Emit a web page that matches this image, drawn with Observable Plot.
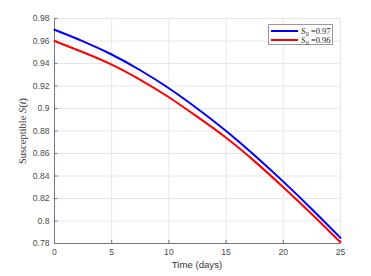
<!DOCTYPE html>
<html>
<head>
<meta charset="utf-8">
<script src="https://cdn.jsdelivr.net/npm/d3@7"></script>
<script src="https://cdn.jsdelivr.net/npm/@observablehq/plot@0.6"></script>
<style>
  html, body { margin: 0; padding: 0; background: #fff; }
  #wrap { position: relative; width: 371px; height: 276px; }
  #legend {
    position: absolute; left: 268px; top: 24px; width: 65px; height: 21px;
    border: 1px solid #9a9a9a; background: #fff; box-sizing: border-box;
    font-family: "Liberation Serif", "DejaVu Serif", serif; font-size: 8.5px; color: #222;
  }
  .row { position: absolute; left: 2px; height: 10px; display: flex; align-items: center; }
  .sw { width: 27px; height: 0; border-top: 2px solid; margin-right: 3px; }
  .lab { white-space: nowrap; line-height: 10px; }
  .lab sub { font-size: 6px; line-height: 0; vertical-align: baseline; position: relative; top: 2px; margin-left: 0.5px; }
</style>
</head>
<body>
<div id="wrap"></div>
<script>
const times = [0, 2.5, 5, 7.5, 10, 12.5, 15, 17.5, 20, 22.5, 25];
const s097 = [0.970, 0.9597, 0.948, 0.934, 0.918, 0.8998, 0.880, 0.8582, 0.835, 0.8105, 0.785];
const s096 = [0.960, 0.950, 0.939, 0.9255, 0.910, 0.8925, 0.874, 0.853, 0.830, 0.806, 0.781];
const seriesNames = ["S0 = 0.97", "S0 = 0.96"];
const seriesColors = ["#0000ff", "#ff0000"];
const seriesLabels = ["0.97", "0.96"];
const xTicks = [0, 5, 10, 15, 20, 25];
const yTicks = [0.78, 0.80, 0.82, 0.84, 0.86, 0.88, 0.90, 0.92, 0.94, 0.96, 0.98];

const data = [
  ...times.map((t, i) => ({t, s: s097[i], k: seriesNames[0]})),
  ...times.map((t, i) => ({t, s: s096[i], k: seriesNames[1]}))
];

const chart = Plot.plot({
  width: 371,
  height: 276,
  marginLeft: 54,
  marginRight: 31,
  marginTop: 18,
  marginBottom: 33,
  style: {fontFamily: "'Liberation Sans', Arial, sans-serif", fontSize: "8.6px", color: "#4a4a4a", background: "#fff"},
  x: {domain: [0, 25]},
  y: {domain: [0.78, 0.98]},
  color: {domain: seriesNames, range: seriesColors},
  marks: [
    Plot.ruleX(xTicks, {x: d => d, stroke: "#e6e6e6", strokeWidth: 1}),
    Plot.ruleY(yTicks, {y: d => d, stroke: "#e6e6e6", strokeWidth: 1}),
    Plot.axisX(xTicks, {tickSize: 0, tickPadding: 5, tickFormat: d => String(d), label: null}),
    Plot.axisY(yTicks, {tickSize: 0, tickPadding: 5, tickFormat: d => String(+d.toFixed(2)), label: null}),
    Plot.ruleX(xTicks, {x: d => d, y1: 0.78, y2: 0.7827, stroke: "#777"}),
    Plot.ruleY(yTicks, {y: d => d, x1: 0, x2: 0.3, stroke: "#777"}),
    Plot.ruleX([0], {stroke: "#777", strokeWidth: 1}),
    Plot.ruleY([0.78], {stroke: "#777", strokeWidth: 1}),
    Plot.line(data, {x: "t", y: "s", z: "k", stroke: "k", strokeWidth: 2, curve: "natural"})
  ]
});

const wrap = document.getElementById("wrap");
wrap.appendChild(chart);

const svg = d3.select(chart);
svg.append("text")
  .attr("x", 197).attr("y", 268)
  .attr("text-anchor", "middle")
  .attr("font-family", "'Liberation Sans', Arial, sans-serif")
  .attr("font-size", "9.6px")
  .attr("fill", "#333")
  .text("Time (days)");

const yl = svg.append("text")
  .attr("transform", "translate(26,131) rotate(-90)")
  .attr("text-anchor", "middle")
  .attr("font-family", "'Liberation Serif', 'DejaVu Serif', serif")
  .attr("font-size", "10.5px")
  .attr("fill", "#333");
yl.append("tspan").text("Susceptible ");
yl.append("tspan").attr("font-style", "italic").text("S");
yl.append("tspan").text("(");
yl.append("tspan").attr("font-style", "italic").text("t");
yl.append("tspan").text(")");

const legend = document.createElement("div");
legend.id = "legend";
seriesLabels.forEach((lab, i) => {
  const row = document.createElement("div");
  row.className = "row";
  row.style.top = (i === 0 ? 1 : 10) + "px";
  row.innerHTML = `<span class="sw" style="border-color:${seriesColors[i]}"></span><span class="lab"><i>S</i><sub>0</sub> =${lab}</span>`;
  legend.appendChild(row);
});
wrap.appendChild(legend);
</script>
</body>
</html>
